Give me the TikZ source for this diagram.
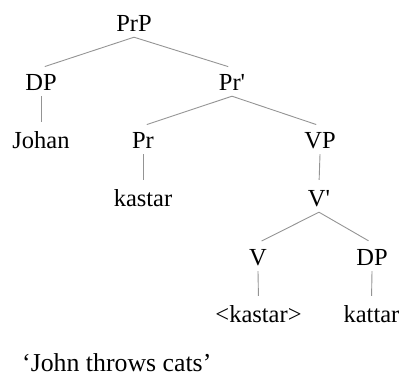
\documentclass[tikz,border=0pt]{standalone}
\usepackage{fontspec}
\newfontfamily\treefont{Liberation Serif}
\begin{document}
\begin{tikzpicture}[x=1pt,y=-1pt,
  lbl/.style={inner sep=0pt, text height=22pt, text depth=6pt, font=\treefont\fontsize{24.5}{29}\selectfont},
  glosslbl/.style={inner sep=0pt, font=\treefont\fontsize{25.8}{30}\selectfont},
  branch/.style={draw=black!42, line width=0.9pt, shorten >=4pt}]
\useasboundingbox (0,0) rectangle (401,376);
\node[lbl] (prp) at (134,23) {PrP};
\node[lbl] (dp1) at (41,82) {DP};
\node[lbl] (prbar) at (232,82) {Pr'};
\node[lbl] (johan) at (41,140) {Johan};
\node[lbl] (pr) at (143,140) {Pr};
\node[lbl] (vp) at (320,140) {VP};
\node[lbl] (kastar) at (143,198) {kastar};
\node[lbl] (vbar) at (319,198) {V'};
\node[lbl] (v) at (258,257) {V};
\node[lbl] (dp2) at (372,257) {DP};
\node[lbl] (kastar2) at (258.5,314) {<kastar>};
\node[lbl] (kattar) at (371.5,314) {kattar};
\node[glosslbl, anchor=base west] (gloss) at (22,371) {‘John throws cats’};
\draw[branch] (prp.south) -- (dp1.north);
\draw[branch] (prp.south) -- (prbar.north);
\draw[branch] (dp1.south) -- (johan.north);
\draw[branch] (prbar.south) -- (pr.north);
\draw[branch] (prbar.south) -- (vp.north);
\draw[branch] (pr.south) -- (kastar.north);
\draw[branch] (vp.south) -- (vbar.north);
\draw[branch] (vbar.south) -- (v.north);
\draw[branch] (vbar.south) -- (dp2.north);
\draw[branch] (v.south) -- (kastar2.north);
\draw[branch] (dp2.south) -- (kattar.north);
\end{tikzpicture}
\end{document}
